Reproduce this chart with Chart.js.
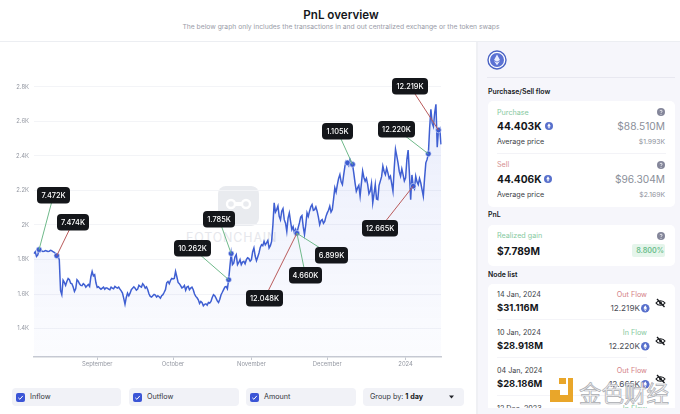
<!DOCTYPE html>
<html><head><meta charset="utf-8">
<script src="https://cdn.jsdelivr.net/npm/chart.js@4"></script>
<style>
*{box-sizing:border-box}
html,body{margin:0;padding:0;background:#fff;width:680px;height:414px;overflow:hidden;font-family:Inter,"Noto Sans",sans-serif;color:#14161a}
.t{position:absolute;white-space:nowrap;line-height:12px;height:12px}
.r{text-align:right}
.b{font-weight:700}
.g{color:#8b8f9a}
.card{position:absolute;background:#fff;border-radius:5px}
.pill{position:absolute;top:388px;height:18px;background:#f1f2f7;border-radius:4px}
.chk{position:absolute;left:4px;top:4.5px;width:9px;height:9px;border-radius:2px;background:#3b55d6}
.chk svg{position:absolute;left:0;top:0}
.pill span{position:absolute;top:3px;line-height:12px;font-size:7.2px;color:#33363d;white-space:nowrap}
svg.i{position:absolute}
</style></head><body>
<div class="t b" style="left:1px;width:680px;text-align:center;top:8px;font-size:11.6px;font-weight:600;line-height:14px;height:14px">PnL overview</div>
<div class="t g" style="left:0;width:682px;text-align:center;top:20.5px;font-size:6.75px;color:#9a9da8">The below graph only includes the transactions in and out centralized exchange or the token swaps</div>
<div style="position:absolute;left:0;top:41px;width:680px;height:1px;background:#eceef2"></div>

<div id="wm" style="position:absolute;left:218px;top:186px;width:41px;height:40px;border-radius:8px;background:#e9ebef"></div>
<svg class="i" style="left:218px;top:186px" width="41" height="40"><circle cx="13" cy="18" r="4" fill="none" stroke="#fff" stroke-width="2.4"/><circle cx="28" cy="18" r="4" fill="none" stroke="#fff" stroke-width="2.4"/><rect x="17" y="16" width="7" height="4" fill="#fff"/></svg>
<div class="t" style="left:186px;top:231px;font-size:12.4px;letter-spacing:.9px;color:#e6e7ec;line-height:14px;height:14px">FOTONCHAIN</div>

<div style="position:absolute;left:0;top:42px;width:476px;height:335px"><canvas id="c" width="476" height="335" style="width:476px;height:335px;display:block"></canvas></div>

<div class="pill" style="left:12px;width:109px"><div class="chk"><svg width="9" height="9"><path d="M2.3 4.8 L3.9 6.3 L6.8 2.9" stroke="#fff" fill="none" stroke-width="1"/></svg></div><span style="left:18px">Inflow</span></div>
<div class="pill" style="left:129px;width:110px"><div class="chk"><svg width="9" height="9"><path d="M2.3 4.8 L3.9 6.3 L6.8 2.9" stroke="#fff" fill="none" stroke-width="1"/></svg></div><span style="left:18px">Outflow</span></div>
<div class="pill" style="left:246px;width:110px"><div class="chk"><svg width="9" height="9"><path d="M2.3 4.8 L3.9 6.3 L6.8 2.9" stroke="#fff" fill="none" stroke-width="1"/></svg></div><span style="left:18px">Amount</span></div>
<div class="pill" style="left:363px;width:101px"><span style="left:7px">Group by: <b style="color:#14161a">1 day</b></span><svg class="i" style="left:85px;top:7px" width="7" height="4"><path d="M1 .5H6L3.5 3.5Z" fill="#22242a"/></svg></div>

<div style="position:absolute;left:476px;top:42px;width:204px;height:372px;background:#f6f6fb;border-left:2px solid #eff0f4"></div>
<svg class="i" style="left:487px;top:50px" width="20" height="20"><circle cx="10" cy="10" r="9" fill="#fff" stroke="#4a63c4" stroke-width="1.4"/><circle cx="10" cy="10" r="7" fill="#5b72d3"/><path d="M10 4.5L13 10L10 11.8L7 10Z M10 12.6L13 10.9L10 15.2L7 10.9Z" fill="#e9edff"/></svg>
<div style="position:absolute;left:487px;top:77px;width:188px;height:1px;background:#e8e8f0"></div>
<div class="t b" style="left:488px;top:86px;font-size:6.9px;font-weight:600">Purchase/Sell flow</div>

<div class="card" style="left:488px;top:101px;width:187px;height:106px"></div>
<div class="t" style="left:497px;top:107px;font-size:7.2px;color:#86c9a0">Purchase</div>
<div class="t b" style="left:497px;top:120px;font-size:10.2px">44.403K</div>
<div class="t r g" style="right:15px;top:120px;font-size:10.2px">$88.510M</div>
<div class="t" style="left:497px;top:136px;font-size:7.2px;color:#3a3d45">Average price</div>
<div class="t r g" style="right:15px;top:136px;font-size:6.8px">$1.993K</div>
<div style="position:absolute;left:497px;top:153px;width:169px;height:1px;background:#f3f3f7"></div>
<div class="t" style="left:497px;top:159px;font-size:7.2px;color:#d58f8f">Sell</div>
<div class="t b" style="left:497px;top:173px;font-size:10.2px">44.406K</div>
<div class="t r g" style="right:15px;top:173px;font-size:10.2px">$96.304M</div>
<div class="t" style="left:497px;top:189px;font-size:7.2px;color:#3a3d45">Average price</div>
<div class="t r g" style="right:15px;top:189px;font-size:6.8px">$2.169K</div>

<div class="t b" style="left:488px;top:209px;font-size:6.9px;font-weight:600">PnL</div>
<div class="card" style="left:488px;top:225px;width:187px;height:41px"></div>
<div class="t" style="left:497px;top:230px;font-size:7.2px;color:#86c9a0">Realized gain</div>
<div class="t b" style="left:497px;top:245px;font-size:10.2px">$7.789M</div>
<div style="position:absolute;left:632px;top:244px;width:33px;height:13px;background:#e5f5eb;border-radius:2px"></div>
<div class="t r" style="right:16px;top:244.5px;font-size:7.2px;font-weight:600;color:#6bbd8b">8.800%</div>

<div class="t b" style="left:488px;top:269px;font-size:6.9px;font-weight:600">Node list</div>
<div style="position:absolute;left:488px;top:284px;width:187px;height:124px;background:#fff;border-radius:5px 5px 0 0;overflow:hidden" id="rows"></div>

<svg class="i" style="left:550px;top:378px" width="24" height="25"><path d="M9 0H16V6H9Z M18 0H23V24H0V12H10V17H18Z" fill="#e9a62a"/></svg>
<div class="t" style="left:579px;top:379px;font-size:22.5px;line-height:26px;height:26px;font-family:'Noto Sans CJK SC';color:#f5f5f7;-webkit-text-stroke:.7px #a9abb0">金色财经</div>

<script>
const days = [];
for (let d = new Date(Date.UTC(2023, 7, 7)); d <= new Date(Date.UTC(2024, 0, 15)); d = new Date(d.getTime() + 864e5)) days.push(d.toISOString().slice(0, 10));

const price = [
 1834,1818,1857,1851,1847,1849,1847,1851,1841,1822,1799,1596,1667,1673,1683,1659,1615,1683,1659,1648,1654,1648,1644,1731,1712,
 1638,1634,1634,1628,1634,1625,1634,1644,1634,1628,1605,1541,1605,1605,1634,1634,1628,1644,1659,1634,1625,1586,1590,1594,1590,1576,1596,1625,1673,1679,
 1687,1731,1667,1648,1640,1621,1644,1634,1625,1586,1566,1557,1532,1543,1551,1557,1596,1576,1551,1596,1625,1644,1683,1834,1779,1828,1783,1770,1789,1799,1805,
 1799,1867,1793,1838,1886,1905,1896,1867,1905,2128,2089,2050,2080,2031,1963,2070,1973,1954,1952,2012,2054,1944,2070,2080,2118,2089,2080,2002,2031,2021,
 2070,2109,2089,2215,2234,2292,2234,2341,2360,2380,2351,2244,2215,2167,2312,2254,2234,2196,2128,2234,2147,2254,2341,2292,2302,2283,2196,2438,2360,2283,2292,
 2273,2434,2147,2225,2283,2234,2243,2167,2360,2412,2670,2570,2699,2550,2467
];
const midday = [
 1845,1826,1853,1846,1852,1846,1853,1845,1835,1818,1620,1680,1650,1690,1662,1640,1630,1675,1650,1660,1640,1655,1700,1705,1665,
 1642,1628,1640,1636,1628,1640,1630,1638,1640,1618,1575,1580,1590,1625,1642,1622,1650,1640,1650,1642,1600,1582,1598,1582,1584,1590,1610,1665,1660,1690,
 1690,1700,1660,1635,1650,1640,1625,1640,1600,1578,1545,1550,1540,1535,1548,1580,1590,1560,1570,1610,1640,1630,1760,1770,1815,1770,1800,1785,1775,1810,1790,
 1845,1820,1815,1870,1880,1885,1910,1880,2000,2075,2110,2030,2095,2010,2040,2020,1990,1975,1985,2045,1990,2000,2050,2105,2085,2105,2045,2025,2010,2050,
 2085,2075,2150,2190,2270,2250,2290,2370,2345,2360,2300,2195,2230,2240,2275,2270,2180,2240,2180,2150,2230,2280,2310,2330,2270,2240,2330,2400,2310,2325,2255,
 2380,2300,2290,2210,2250,2270,2205,2270,2380,2560,2590,2650,2450,2560
];
const slots = days.flatMap((d, i) => i < midday.length ? [d, d + ' 12h'] : [d]);
const series = price.flatMap((v, i) => i < midday.length ? [v, midday[i]] : [v]);

const monthDays = ['2023-09-01','2023-10-01','2023-11-01','2023-12-01','2024-01-01'];
const monthLabels = ['September','October','November','December','2024'];
const yTickValues = [1400,1600,1800,2000,2200,2400,2600,2800];
const yTickLabels = ['1.4K','1.6K','1.8K','2K','2.2K','2.4K','2.6K','2.8K'];

const nodeDays = ['2023-08-09','2023-08-16','2023-10-23','2023-10-24','2023-11-19','2023-12-09','2023-12-11','2024-01-04','2024-01-10','2024-01-14'];

const calloutText = ['7.472K','7.474K','10.262K','1.785K','12.048K','4.660K','6.899K','1.105K','12.220K','12.665K','12.219K'];
const calloutDay = ['2023-08-09','2023-08-16','2023-10-23','2023-10-24','2023-11-19','2023-11-19','2023-11-19','2023-12-11','2024-01-10','2024-01-04','2024-01-14'];
const calloutFlow = ['in','out','in','in','out','in','in','in','in','out','out'];
const calloutBoxLeft = [37,57,174,203,246,289,315,322,378,362,392];
const calloutBoxTop = [187,214,240,211,290,267,247,123,121,220,78];
const calloutBoxWidth = [33,32,37,32,37,33,33,31,37,36,36];

const rowDate = ['14 Jan, 2024','10 Jan, 2024','04 Jan, 2024','12 Dec, 2023'];
const rowValue = ['$31.116M','$28.918M','$28.186M','$26.000M'];
const rowFlow = ['Out Flow','In Flow','Out Flow','In Flow'];
const rowAmount = ['12.219K','12.220K','12.665K','12.000K'];

const ethIcon = (l, t, s) => `<svg class="i" style="left:${l}px;top:${t}px" width="${s}" height="${s}" viewBox="0 0 10 10"><circle cx="5" cy="5" r="5" fill="#5870cc"/><path d="M5 1.6L7.1 5L5 6.2L2.9 5Z M5 6.8L7 5.6L5 8.4L3 5.6Z" fill="#fff"/></svg>`;
const helpIcon = (l, t) => `<svg class="i" style="left:${l}px;top:${t}px" width="8" height="8"><circle cx="4" cy="4" r="4" fill="#84869a"/><path d="M2.9 3.1C3 1.9 5.2 1.9 5.2 3.1C5.2 4 4 3.9 4 4.9" stroke="#fff" stroke-width=".8" fill="none"/><circle cx="4" cy="6.2" r=".5" fill="#fff"/></svg>`;
let extra = '';
extra += ethIcon(545, 122, 8) + ethIcon(544, 175, 8) + helpIcon(657, 108) + helpIcon(657, 161) + helpIcon(657, 232);
document.body.insertAdjacentHTML('beforeend', extra);

const rows = document.getElementById('rows');
rowDate.forEach((d, i) => {
  const y = 38 * i;
  const flowCol = rowFlow[i] === 'In Flow' ? '#86c9a0' : '#d47f86';
  let h = `<div class="t" style="left:9px;top:${y + 5}px;font-size:7.2px;color:#3a3d45">${d}</div>`;
  h += `<div class="t b" style="left:9px;top:${y + 18}px;font-size:9.4px">${rowValue[i]}</div>`;
  h += `<div class="t r" style="right:28px;top:${y + 5}px;font-size:7.2px;color:${flowCol}">${rowFlow[i]}</div>`;
  h += `<div class="t r" style="right:35px;top:${y + 18}px;font-size:8.2px;color:#4a4d56">${rowAmount[i]}</div>`;
  h += ethIcon(153, y + 20, 8.5);
  if (i < 3) h += `<div style="position:absolute;left:9px;top:${y + 35}px;width:150px;height:1px;background:#f4f4f8"></div>`;
  h += `<svg class="i" style="left:167px;top:${y + 14}px" width="11" height="10"><path d="M1 5C3 2 8 2 10 5C8 8 3 8 1 5Z" fill="none" stroke="#16181c" stroke-width="1.2"/><circle cx="5.5" cy="5" r="1.4" fill="#16181c"/><path d="M2 1L9.5 9" stroke="#16181c" stroke-width="1.3"/></svg>`;
  rows.insertAdjacentHTML('beforeend', h);
});

const nodeSeries = slots.map((d, i) => nodeDays.includes(d) ? series[i] : null);

const callouts = {
  id: 'callouts',
  afterDatasetsDraw(chart) {
    const { ctx, scales: { x, y } } = chart;
    const top = chart.canvas.getBoundingClientRect().top;
    ctx.save();
    calloutText.forEach((txt, i) => {
      const k = slots.indexOf(calloutDay[i]);
      const px = x.getPixelForValue(k), py = y.getPixelForValue(series[k]);
      const bx = calloutBoxLeft[i], by = calloutBoxTop[i] - top, bw = calloutBoxWidth[i], bh = 16.5;
      ctx.strokeStyle = calloutFlow[i] === 'in' ? '#6fb98a' : '#b95a5a';
      ctx.lineWidth = 1;
      ctx.beginPath(); ctx.moveTo(bx + bw / 2, by + bh / 2); ctx.lineTo(px, py); ctx.stroke();
    });
    calloutText.forEach((txt, i) => {
      const bx = calloutBoxLeft[i], by = calloutBoxTop[i] - top, bw = calloutBoxWidth[i], bh = 16.5;
      ctx.fillStyle = '#14161a';
      ctx.beginPath(); ctx.roundRect(bx, by, bw, bh, 4); ctx.fill();
      ctx.fillStyle = '#fff';
      ctx.font = '500 7.4px Inter';
      ctx.textAlign = 'center'; ctx.textBaseline = 'middle';
      ctx.fillText(txt, bx + bw / 2, by + bh / 2 + .3);
    });
    ctx.restore();
  }
};

new Chart(document.getElementById('c'), {
  type: 'line',
  plugins: [callouts],
  data: {
    labels: slots,
    datasets: [
      { data: nodeSeries, showLine: false, pointRadius: 2.8, pointBackgroundColor: '#3c5bd0', pointBorderColor: '#dfe5fb', pointBorderWidth: .6, pointHoverRadius: 0 },
      { data: series, borderColor: '#3f5fd2', borderWidth: 1.5, pointRadius: 0, tension: 0, fill: 'start',
        backgroundColor(ctx) {
          const a = ctx.chart.chartArea;
          if (!a) return 'transparent';
          const g = ctx.chart.ctx.createLinearGradient(0, a.top, 0, a.bottom);
          g.addColorStop(0, 'rgba(63,95,225,.12)');
          g.addColorStop(1, 'rgba(63,95,225,.02)');
          return g;
        } }
    ]
  },
  options: {
    responsive: false, animation: false, devicePixelRatio: 1,
    layout: { padding: { left: 0, right: 35, top: 28, bottom: 0 } },
    plugins: { legend: { display: false }, tooltip: { enabled: false } },
    scales: {
      x: {
        type: 'category', offset: false,
        afterFit(s) { s.height = 20; },
        afterBuildTicks(s) { s.ticks = monthDays.map(d => ({ value: slots.indexOf(d) })); },
        grid: { drawOnChartArea: false, drawTicks: true, tickLength: 3, color: '#c4c7cf' },
        border: { color: '#c8cbd2', width: 1.4 },
        ticks: { autoSkip: false, maxRotation: 0, padding: 1, color: '#9498a2', font: { size: 5.9, family: 'Inter' },
          callback(v) { const i = monthDays.indexOf(slots[v]); return i >= 0 ? monthLabels[i] : ''; } }
      },
      y: {
        min: 1235, max: 2898,
        afterFit(s) { s.width = 34; },
        afterBuildTicks(s) { s.ticks = yTickValues.map(v => ({ value: v })); },
        grid: { color: '#f3f4f7', lineWidth: 1, drawTicks: false },
        border: { display: false },
        ticks: { padding: 5, color: '#9498a2', font: { size: 5.9, family: 'Inter' },
          callback(v) { const i = yTickValues.indexOf(v); return i >= 0 ? yTickLabels[i] : ''; } }
      }
    }
  }
});
</script>
</body></html>
